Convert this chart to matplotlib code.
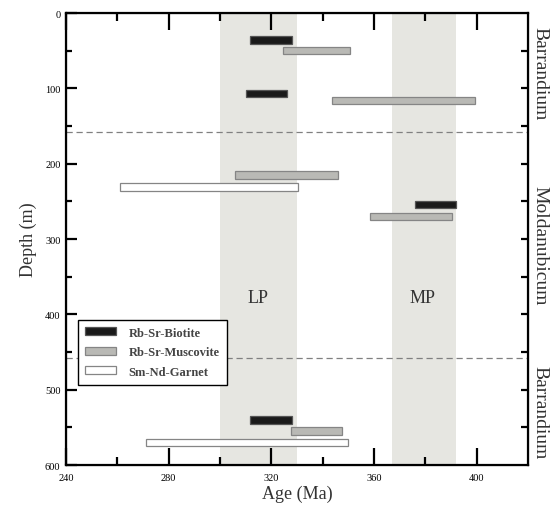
import matplotlib
matplotlib.use("Agg")
import matplotlib.pyplot as plt
from matplotlib.patches import Patch

plt.rcParams['font.family'] = ['Liberation Serif', 'DejaVu Serif']

# Data
minerals = ["Rb-Sr-Biotite", "Rb-Sr-Muscovite", "Rb-Sr-Biotite", "Rb-Sr-Muscovite",
            "Rb-Sr-Muscovite", "Sm-Nd-Garnet", "Rb-Sr-Biotite", "Rb-Sr-Muscovite",
            "Rb-Sr-Biotite", "Rb-Sr-Muscovite", "Sm-Nd-Garnet"]
depths = [36, 50, 107, 116, 215, 231, 254, 270, 540, 555, 570]
age_min = [311.5, 324.5, 310, 343.5, 306, 261, 376, 358.5, 311.5, 327.5, 271]
age_max = [328, 350.5, 326, 399.5, 346, 330.5, 392, 390.5, 328, 347.5, 350]
lp_band = [300, 330]
mp_band = [367, 392]
boundaries = [158, 458]
regions = ["Barrandium", "Moldanubicum", "Barrandium"]
region_depths = [79, 308, 529]
x_ticks = [240, 280, 320, 360, 400]
y_ticks = [0, 100, 200, 300, 400, 500, 600]

styles = {
    "Rb-Sr-Biotite": dict(facecolor="#1a1a1a", edgecolor="#555555"),
    "Rb-Sr-Muscovite": dict(facecolor="#b9b9b5", edgecolor="#858585"),
    "Sm-Nd-Garnet": dict(facecolor="#ffffff", edgecolor="#858585"),
}

fig = plt.figure(figsize=(5.57, 5.10), dpi=100)
ax = fig.add_axes([66/557, 44/510, (528-66)/557, (466-14)/510])

ax.axvspan(lp_band[0], lp_band[1], color="#e6e6e1", zorder=0, lw=0)
ax.axvspan(mp_band[0], mp_band[1], color="#e6e6e1", zorder=0, lw=0)

for b in boundaries:
    ax.axhline(b, color="#808080", lw=0.9, ls=(0, (5, 3)), zorder=1)

for m, d, a0, a1 in zip(minerals, depths, age_min, age_max):
    ax.barh(d, a1 - a0, left=a0, height=10, lw=0.9, zorder=3, **styles[m])

ax.set_xlim(240, 420)
ax.set_ylim(600, 0)
ax.set_xticks(x_ticks)
ax.set_xticks([260, 300, 340, 380], minor=True)
ax.set_yticks(y_ticks)
ax.set_yticks([50, 150, 250, 350, 450, 550], minor=True)
ax.tick_params(axis='x', which='major', direction='in', length=12, width=1.6,
               top=True, labelsize=7.5, pad=6)
ax.tick_params(axis='x', which='minor', direction='in', length=6, width=1.6, top=True)
ax.tick_params(axis='y', which='major', direction='in', length=8, width=1.6,
               labelsize=7.5, pad=4)
ax.tick_params(axis='y', which='minor', direction='in', length=4, width=1.6)
for s in ax.spines.values():
    s.set_linewidth(1.6)

ax2 = ax.twinx()
ax2.set_ylim(600, 0)
ax2.set_yticks(range(50, 600, 50))
ax2.tick_params(axis='y', direction='in', length=5, width=1.6, labelright=False)

ax.set_xlabel("Age (Ma)", fontsize=13, color="#333333", labelpad=2)
ax.set_ylabel("Depth (m)", fontsize=13, color="#333333", labelpad=6)

ax.text(315, 377, "LP", fontsize=13, color="#333333", ha="center", va="center", zorder=4)
ax.text(379, 377, "MP", fontsize=13, color="#333333", ha="center", va="center", zorder=4)

for r, d in zip(regions, region_depths):
    ax.text(1.025, d, r, transform=ax.get_yaxis_transform(), rotation=-90,
            fontsize=14, color="#333333", ha="center", va="center")

handles = [Patch(label=k, lw=0.9, **v) for k, v in styles.items()]
leg = ax2.legend(handles=handles, loc="upper left", bbox_to_anchor=(0.026, 0.321),
                 borderaxespad=0,
                 frameon=True, fancybox=False, edgecolor="black", framealpha=1,
                 handlelength=2.5, handleheight=0.6, prop=dict(size=9, weight='bold'),
                 labelcolor="#444444", borderpad=0.55, labelspacing=0.6, handletextpad=1.0)
leg.get_frame().set_linewidth(1.0)
leg.set_zorder(5)

fig.savefig("out.png", dpi=100)
